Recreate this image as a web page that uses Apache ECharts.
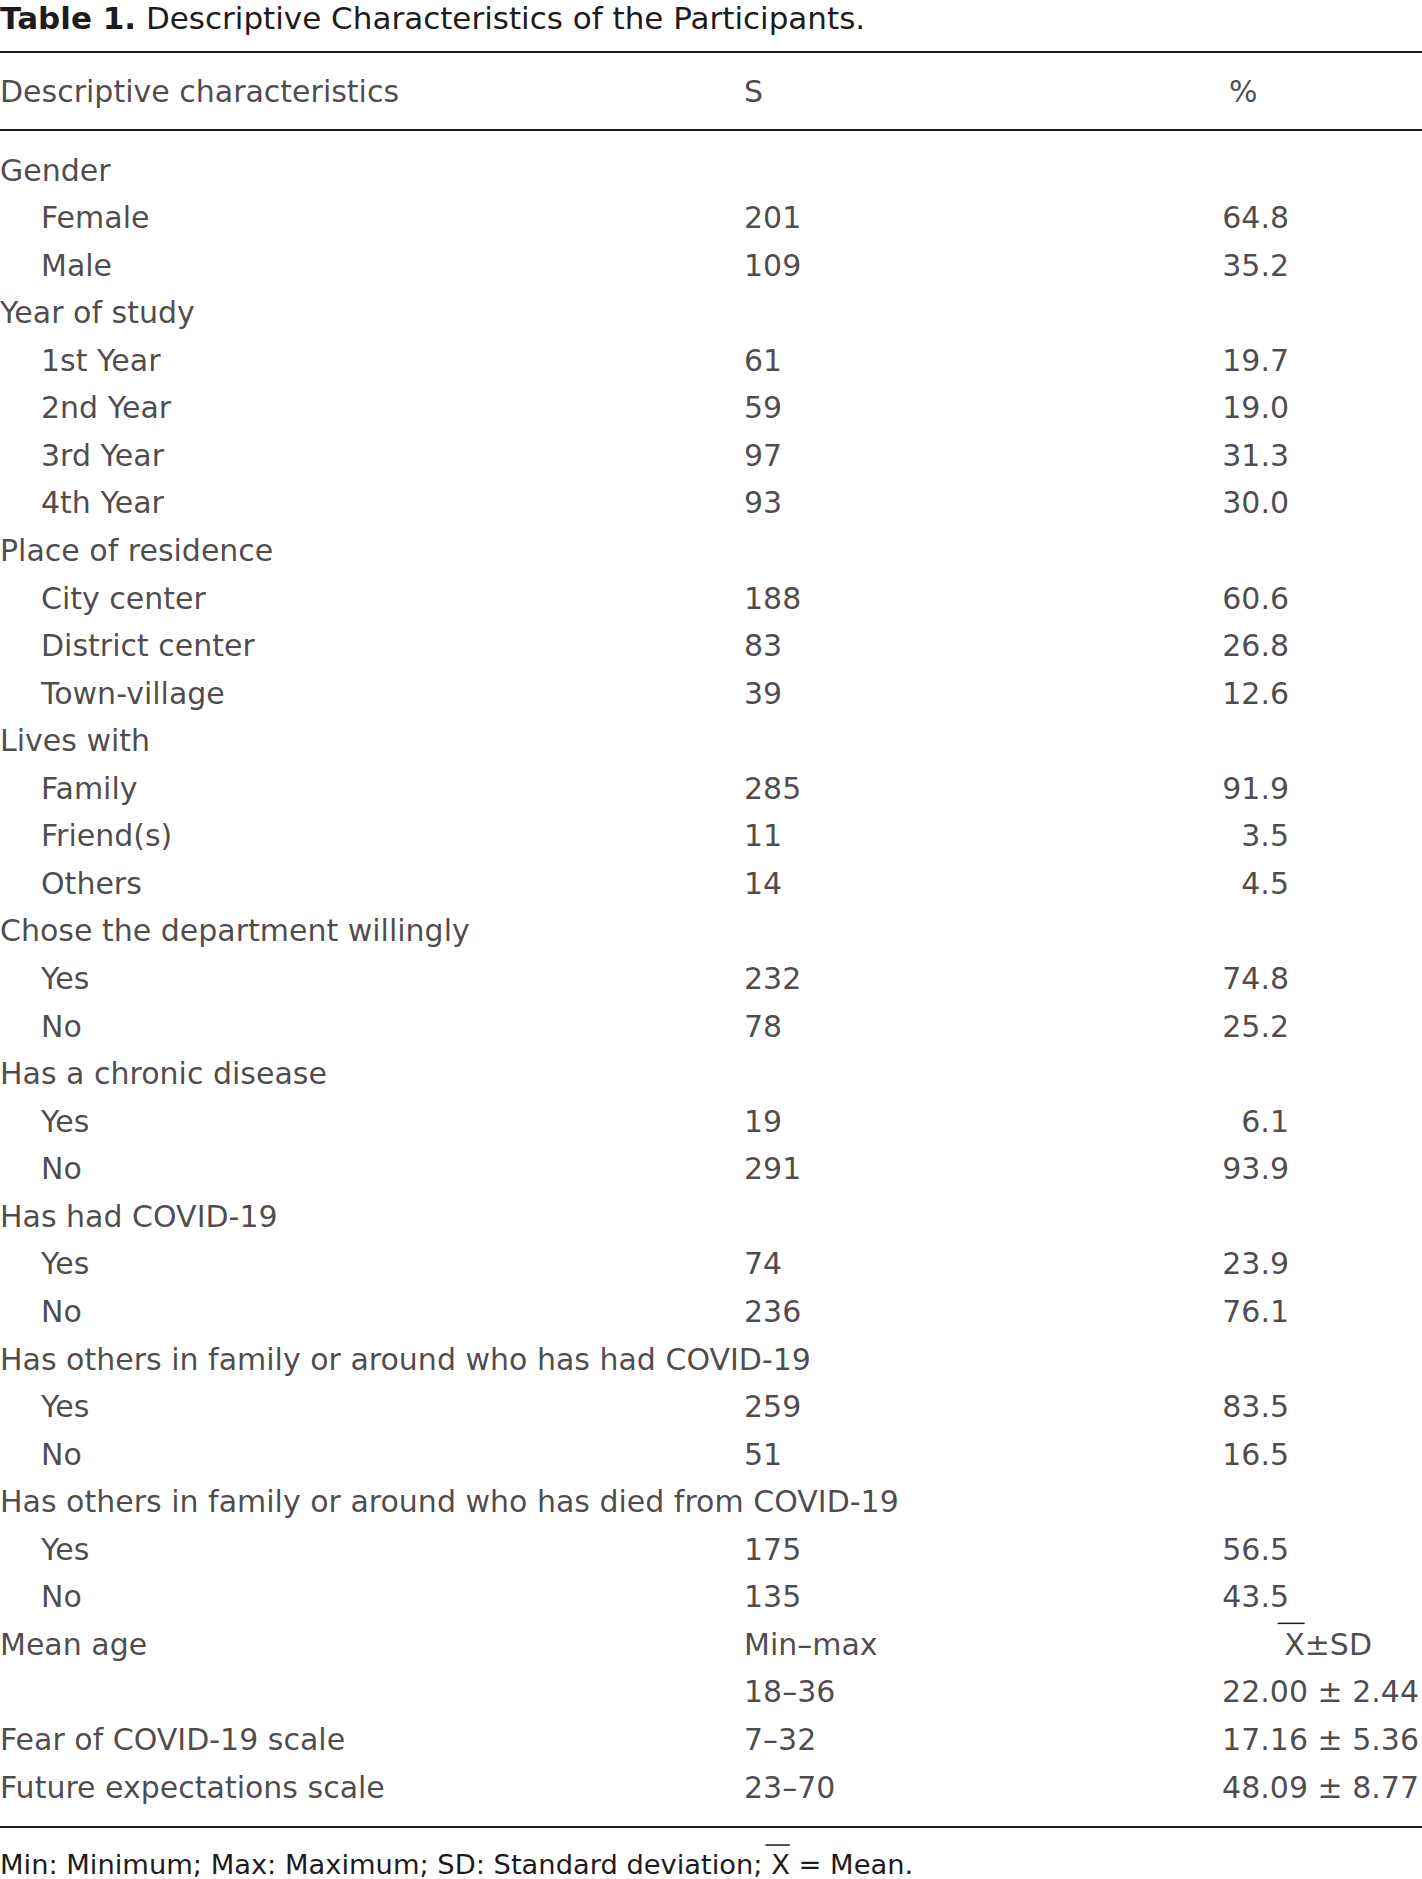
<!DOCTYPE html>
<html><head><meta charset="utf-8">
<script src="https://cdn.jsdelivr.net/npm/echarts@6/dist/echarts.min.js"></script>
<style>html,body{margin:0;padding:0;background:#fff}#c{width:1422px;height:1879px}</style>
</head><body><div id="c"></div>
<script>
// ---------- data ----------
const titleBold = 'Table 1.';
const titleText = 'Descriptive Characteristics of the Participants.';
const headers = ['Descriptive characteristics', 'S', '%'];
const characteristics = [
  'Gender', 'Female', 'Male',
  'Year of study', '1st Year', '2nd Year', '3rd Year', '4th Year',
  'Place of residence', 'City center', 'District center', 'Town-village',
  'Lives with', 'Family', 'Friend(s)', 'Others',
  'Chose the department willingly', 'Yes', 'No',
  'Has a chronic disease', 'Yes', 'No',
  'Has had COVID-19', 'Yes', 'No',
  'Has others in family or around who has had COVID-19', 'Yes', 'No',
  'Has others in family or around who has died from COVID-19', 'Yes', 'No',
  'Mean age', '', 'Fear of COVID-19 scale', 'Future expectations scale'
];
const isSubItem = [
  0, 1, 1,
  0, 1, 1, 1, 1,
  0, 1, 1, 1,
  0, 1, 1, 1,
  0, 1, 1,
  0, 1, 1,
  0, 1, 1,
  0, 1, 1,
  0, 1, 1,
  0, 0, 0, 0
];
const counts = [
  '', '201', '109',
  '', '61', '59', '97', '93',
  '', '188', '83', '39',
  '', '285', '11', '14',
  '', '232', '78',
  '', '19', '291',
  '', '74', '236',
  '', '259', '51',
  '', '175', '135',
  'Min–max', '18–36', '7–32', '23–70'
];
const percents = [
  '', '64.8', '35.2',
  '', '19.7', '19.0', '31.3', '30.0',
  '', '60.6', '26.8', '12.6',
  '', '91.9', '3.5', '4.5',
  '', '74.8', '25.2',
  '', '6.1', '93.9',
  '', '23.9', '76.1',
  '', '83.5', '16.5',
  '', '56.5', '43.5',
  'X±SD', '22.00 ± 2.44', '17.16 ± 5.36', '48.09 ± 8.77'
];
const footnoteStart = 'Min: Minimum; Max: Maximum; SD: Standard deviation;';
const footnoteMean = ' X';
const footnoteEnd = ' = Mean.';

// ---------- layout ----------
const W = 1422, H = 1879;
const Y0 = 170, ROW_H = 47.56;
const FONT = 'DejaVu Sans';
const COLOR = '#1f1b1c';
const BODY = 30, TITLE = 31, NOTE = 27.3;
const X_INDENT = 41, X_S = 744, X_PCT_R = 1289, X_STAT_R = 1419, X_STATHDR_R = 1372, X_PCT_HDR = 1229;
const toRow = px => (px - Y0) / ROW_H;
const HEADER_ROW = toRow(91);
const RULES = [toRow(51.7), toRow(129.6), toRow(1827)];

const mctx = document.createElement('canvas').getContext('2d');
function tw(t, size, weight) { mctx.font = (weight || 'normal') + ' ' + size + 'px "' + FONT + '"'; return mctx.measureText(t).width; }

const baseLabel = { show: true, position: 'inside', verticalAlign: 'middle', color: COLOR, fontSize: BODY, fontFamily: FONT, formatter: '{b}' };
function textSeries(name, data, align) {
  return {
    type: 'scatter', name, symbolSize: 0, silent: true, clip: false, animation: false,
    data, label: Object.assign({}, baseLabel, { align })
  };
}

const labelData = [], countData = [], pctRightData = [];
characteristics.forEach((t, i) => {
  if (t) labelData.push({ name: t, value: [isSubItem[i] ? X_INDENT : 0, i] });
  if (counts[i]) countData.push({ name: counts[i], value: [X_S, i] });
  const p = percents[i];
  if (p) {
    if (p === 'X±SD') pctRightData.push({ name: ' ' + p, value: [X_STATHDR_R, i] });
    else if (p.indexOf('±') >= 0) pctRightData.push({ name: p, value: [X_STAT_R, i] });
    else pctRightData.push({ name: p, value: [X_PCT_R, i] });
  }
});
const headerLeft = [
  { name: headers[0], value: [0, HEADER_ROW] },
  { name: headers[1], value: [X_S, HEADER_ROW] },
  { name: headers[2], value: [X_PCT_HDR, HEADER_ROW] }
];

const chart = echarts.init(document.getElementById('c'), null, { renderer: 'svg', width: W, height: H });

const yMin = -Y0 / ROW_H, yMax = (H - Y0) / ROW_H;
const yPx = r => Y0 + r * ROW_H;

const statRow = percents.indexOf('X±SD');
const shW = tw(' X±SD', BODY);
const shStart = X_STATHDR_R - shW;
const shEnd = shStart + tw(' X', BODY);
const FOOT_Y = 1864;
const fnStartW = tw(footnoteStart, NOTE);
const fnEnd = fnStartW + tw(footnoteMean, NOTE);

const headerSeries = textSeries('header', headerLeft, 'left');
headerSeries.markLine = {
  silent: true, symbol: 'none', animation: false,
  label: { show: false },
  lineStyle: { color: COLOR, width: 2, type: 'solid' },
  data: RULES.map(r => ({ yAxis: r }))
};

chart.setOption({
  animation: false,
  backgroundColor: '#fff',
  grid: { left: 0, right: 0, top: 0, bottom: 0 },
  xAxis: { type: 'value', min: 0, max: W, show: false },
  yAxis: { type: 'value', min: yMin, max: yMax, inverse: true, show: false },
  series: [
    headerSeries,
    textSeries('labels', labelData, 'left'),
    textSeries('counts', countData, 'left'),
    textSeries('percents', pctRightData, 'right')
  ],
  graphic: [
    {
      type: 'text', silent: true, x: 0, y: 18,
      style: {
        text: '{b|' + titleBold + '} ' + titleText,
        fill: COLOR, font: TITLE + 'px "' + FONT + '"', verticalAlign: 'middle', lineHeight: 33,
        rich: { b: { fontWeight: 'bold', fontSize: TITLE, fontFamily: FONT, fill: COLOR, lineHeight: 33 } }
      }
    },
    {
      type: 'text', silent: true, x: 0, y: FOOT_Y,
      style: { text: footnoteStart + footnoteMean + footnoteEnd, fill: COLOR, font: NOTE + 'px "' + FONT + '"', verticalAlign: 'middle' }
    },
    {
      type: 'line', silent: true,
      shape: { x1: fnStartW + 3, y1: FOOT_Y - 19, x2: fnEnd, y2: FOOT_Y - 19 },
      style: { stroke: COLOR, lineWidth: 1.5 }
    },
    {
      type: 'line', silent: true,
      shape: { x1: shStart + 3, y1: yPx(statRow) - 21, x2: shEnd, y2: yPx(statRow) - 21 },
      style: { stroke: COLOR, lineWidth: 1.5 }
    }
  ]
});
</script>
</body></html>
